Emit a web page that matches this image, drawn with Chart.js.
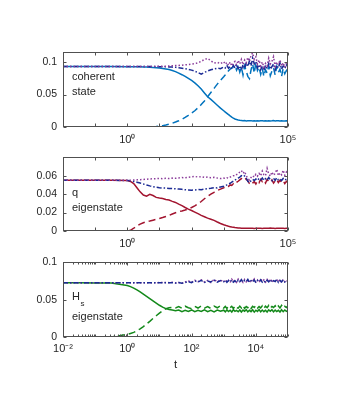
<!DOCTYPE html>
<html>
<head>
<meta charset="utf-8">
<script src="https://cdn.jsdelivr.net/npm/chart.js@4/dist/chart.umd.min.js"></script>
<style>
  html, body { margin: 0; padding: 0; background: #fff; }
  body { width: 341px; height: 400px; position: relative; overflow: hidden; }
  canvas { position: absolute; left: 0; }
</style>
</head>
<body>
<canvas id="c1" width="341" height="105" style="top:40px"></canvas>
<canvas id="c2" width="341" height="105" style="top:145px"></canvas>
<canvas id="c3" width="341" height="130" style="top:250px"></canvas>
<script>
// log10(t) of the sample points, shared by the three panels
var logT = [-2, -1.5, -1, -0.5,
  0, 0.1, 0.2, 0.3, 0.4, 0.5, 0.6, 0.7, 0.8, 0.9, 1.0, 1.1, 1.2, 1.3, 1.4, 1.5,
  1.6, 1.7, 1.8, 1.9, 2.0, 2.1, 2.2, 2.3, 2.4, 2.5, 2.6, 2.7, 2.8, 2.9, 3.0,
  3.05, 3.1, 3.15, 3.2, 3.25, 3.3, 3.35, 3.4, 3.45, 3.5, 3.55, 3.6, 3.65, 3.7, 3.75, 3.8, 3.85, 3.9, 3.95, 4.0,
  4.05, 4.1, 4.15, 4.2, 4.25, 4.3, 4.35, 4.4, 4.45, 4.5, 4.55, 4.6, 4.65, 4.7, 4.75, 4.8, 4.85, 4.9, 4.95, 5.0];

// panel 1 : coherent state
var cohSolid = [0.093, 0.093, 0.093, 0.093,
  0.0929, 0.0928, 0.0928, 0.0927, 0.0926, 0.0924, 0.0922, 0.092, 0.0917, 0.0913, 0.0908, 0.0902, 0.0894, 0.0884, 0.0870, 0.0852,
  0.0830, 0.0805, 0.0778, 0.0748, 0.0716, 0.0680, 0.0635, 0.0585, 0.0525, 0.0465, 0.0425, 0.0380, 0.0335, 0.0290, 0.0250,
  0.0230, 0.0210, 0.0190, 0.0170, 0.0152, 0.0137, 0.0124, 0.0115, 0.0108, 0.0103, 0.0100, 0.0097, 0.0099, 0.0094, 0.0097, 0.0095, 0.0098, 0.0093, 0.0096, 0.0094,
  0.0097, 0.0093, 0.0096, 0.0095, 0.0092, 0.0097, 0.0094, 0.0096, 0.0093, 0.0095, 0.0098, 0.0092, 0.0095, 0.0097, 0.0093, 0.0096, 0.0094, 0.0092, 0.0096, 0.0094];
var cohDash = [0, 0, 0, 0,
  0, 0, 0, 0, 0, 0, 0, 0.0002, 0.0004, 0.0007, 0.0012, 0.0020, 0.0030, 0.0043, 0.0058, 0.0076,
  0.0096, 0.0120, 0.0148, 0.0180, 0.0215, 0.0250, 0.0295, 0.0345, 0.0400, 0.0465, 0.0530, 0.0595, 0.0660, 0.0720, 0.0775,
  0.0805, 0.0840, 0.0865, 0.0890, 0.0905, 0.0920, 0.0935, 0.0875, 0.0950, 0.0845, 0.0920, 0.0800, 0.0940, 0.0860, 0.0780, 0.0745, 0.0880, 0.0970, 0.0830, 0.0990,
  0.0870, 0.0920, 0.0810, 0.0900, 0.0780, 0.0880, 0.0830, 0.0940, 0.0790, 0.0860, 0.0910, 0.0800, 0.0930, 0.0840, 0.0890, 0.0780, 0.0900, 0.0820, 0.0870, 0.0810];
var cohDashDot = [0.093, 0.093, 0.093, 0.093,
  0.093, 0.093, 0.093, 0.093, 0.093, 0.093, 0.093, 0.093, 0.093, 0.093, 0.0929, 0.0928, 0.0927, 0.0925, 0.0922, 0.0918,
  0.0912, 0.0905, 0.0897, 0.0888, 0.0876, 0.0860, 0.0838, 0.0815, 0.0840, 0.0862, 0.0880, 0.0893, 0.0905, 0.0898, 0.0925,
  0.0910, 0.0945, 0.0905, 0.0935, 0.0895, 0.0950, 0.0910, 0.0965, 0.0900, 0.0940, 0.0880, 0.0960, 0.0900, 0.0990, 0.0930, 0.1020, 0.0940, 0.1060, 0.0970, 0.1010,
  0.0910, 0.0960, 0.0880, 0.0940, 0.0870, 0.0950, 0.0900, 0.0980, 0.0890, 0.0930, 0.0970, 0.0880, 0.0950, 0.0910, 0.0990, 0.0890, 0.0940, 0.0900, 0.0960, 0.0920];
var cohDot = [0.093, 0.093, 0.093, 0.093,
  0.093, 0.093, 0.093, 0.093, 0.093, 0.0931, 0.0931, 0.0932, 0.0932, 0.0933, 0.0934, 0.0935, 0.0937, 0.0939, 0.0942, 0.0945,
  0.0948, 0.0952, 0.0957, 0.0962, 0.0968, 0.0975, 0.0990, 0.1010, 0.1040, 0.1055, 0.1020, 0.0985, 0.0995, 0.0975, 0.1005,
  0.0965, 0.0995, 0.0950, 0.1000, 0.0940, 0.0985, 0.1010, 0.0955, 0.1025, 0.0970, 0.1040, 0.0960, 0.1030, 0.0990, 0.1070, 0.1010, 0.1100, 0.1140, 0.1040, 0.1080,
  0.0970, 0.1030, 0.0940, 0.1000, 0.0920, 0.0980, 0.0940, 0.1060, 0.0970, 0.1010, 0.1080, 0.0930, 0.1000, 0.0960, 0.1030, 0.0940, 0.0990, 0.0920, 0.1000, 0.0950];

// panel 2 : q eigenstate
var qSolid = [0.055, 0.055, 0.055, 0.055,
  0.0548, 0.0538, 0.0515, 0.0470, 0.0425, 0.0390, 0.0378, 0.0398, 0.0385, 0.0365, 0.0358, 0.0352, 0.0342, 0.0336, 0.0322, 0.0310,
  0.0292, 0.0275, 0.0255, 0.0238, 0.0222, 0.0205, 0.0188, 0.0170, 0.0155, 0.0140, 0.0128, 0.0115, 0.0098, 0.0082, 0.0068,
  0.0062, 0.0056, 0.0051, 0.0047, 0.0043, 0.0040, 0.0037, 0.0035, 0.0033, 0.0032, 0.0031, 0.0030, 0.0031, 0.0029, 0.0030, 0.0031, 0.0029, 0.0030, 0.0028, 0.0030,
  0.0031, 0.0029, 0.0030, 0.0028, 0.0030, 0.0031, 0.0029, 0.0030, 0.0032, 0.0029, 0.0030, 0.0028, 0.0031, 0.0030, 0.0029, 0.0031, 0.0030, 0.0028, 0.0030, 0.0031];
var qDash = [0, 0, 0, 0,
  0, 0.0008, 0.0030, 0.0055, 0.0075, 0.0090, 0.0100, 0.0108, 0.0117, 0.0126, 0.0136, 0.0146, 0.0158, 0.0170, 0.0185, 0.0198,
  0.0210, 0.0218, 0.0228, 0.0240, 0.0255, 0.0272, 0.0295, 0.0320, 0.0350, 0.0375, 0.0400, 0.0420, 0.0440, 0.0455, 0.0470,
  0.0478, 0.0490, 0.0484, 0.0500, 0.0495, 0.0512, 0.0505, 0.0528, 0.0540, 0.0555, 0.0570, 0.0565, 0.0580, 0.0560, 0.0545, 0.0515, 0.0500, 0.0520, 0.0535, 0.0510,
  0.0545, 0.0525, 0.0560, 0.0535, 0.0550, 0.0520, 0.0560, 0.0540, 0.0530, 0.0555, 0.0520, 0.0545, 0.0560, 0.0525, 0.0550, 0.0530, 0.0545, 0.0515, 0.0540, 0.0525];
var qDashDot = [0.055, 0.055, 0.055, 0.055,
  0.0549, 0.0545, 0.0538, 0.0530, 0.0520, 0.0510, 0.0500, 0.0490, 0.0482, 0.0475, 0.0470, 0.0467, 0.0465, 0.0462, 0.0460, 0.0458,
  0.0455, 0.0452, 0.0448, 0.0445, 0.0442, 0.0446, 0.0450, 0.0448, 0.0455, 0.0460, 0.0464, 0.0470, 0.0468, 0.0478, 0.0485,
  0.0492, 0.0500, 0.0510, 0.0518, 0.0530, 0.0540, 0.0552, 0.0565, 0.0575, 0.0585, 0.0600, 0.0590, 0.0598, 0.0575, 0.0540, 0.0525, 0.0545, 0.0560, 0.0548, 0.0565,
  0.0550, 0.0570, 0.0555, 0.0575, 0.0548, 0.0568, 0.0552, 0.0580, 0.0558, 0.0545, 0.0572, 0.0550, 0.0578, 0.0555, 0.0565, 0.0548, 0.0570, 0.0552, 0.0562, 0.0550];
var qDot = [0.055, 0.055, 0.055, 0.055,
  0.0551, 0.0552, 0.0553, 0.0555, 0.0557, 0.0560, 0.0562, 0.0565, 0.0567, 0.0568, 0.0570, 0.0568, 0.0572, 0.0570, 0.0574, 0.0572,
  0.0576, 0.0580, 0.0578, 0.0584, 0.0588, 0.0592, 0.0586, 0.0590, 0.0582, 0.0585, 0.0578, 0.0582, 0.0575, 0.0570, 0.0574,
  0.0570, 0.0578, 0.0572, 0.0585, 0.0590, 0.0600, 0.0598, 0.0612, 0.0620, 0.0640, 0.0655, 0.0625, 0.0645, 0.0600, 0.0570, 0.0555, 0.0580, 0.0600, 0.0585, 0.0615,
  0.0595, 0.0625, 0.0600, 0.0650, 0.0610, 0.0600, 0.0680, 0.0620, 0.0595, 0.0640, 0.0605, 0.0625, 0.0670, 0.0600, 0.0630, 0.0610, 0.0660, 0.0605, 0.0640, 0.0615];

// panel 3 : Hs eigenstate
var hsSolid = [0.0725, 0.0725, 0.0724, 0.0722,
  0.0690, 0.0675, 0.0655, 0.0630, 0.0605, 0.0575, 0.0545, 0.0515, 0.0485, 0.0455, 0.0425, 0.0400, 0.0380, 0.0368, 0.0360, 0.0352,
  0.0360, 0.0340, 0.0358, 0.0343, 0.0362, 0.0338, 0.0356, 0.0342, 0.0364, 0.0339, 0.0357, 0.0336, 0.0361, 0.0344, 0.0359,
  0.0337, 0.0363, 0.0341, 0.0358, 0.0335, 0.0365, 0.0343, 0.0356, 0.0338, 0.0362, 0.0334, 0.0360, 0.0345, 0.0366, 0.0336, 0.0357, 0.0340, 0.0364, 0.0333, 0.0359,
  0.0342, 0.0367, 0.0337, 0.0361, 0.0339, 0.0358, 0.0335, 0.0363, 0.0344, 0.0365, 0.0336, 0.0360, 0.0341, 0.0357, 0.0334, 0.0364, 0.0339, 0.0362, 0.0343, 0.0356];
var hsDash = [0, 0, 0, 0,
  0.0035, 0.0048, 0.0062, 0.0085, 0.0110, 0.0140, 0.0175, 0.0210, 0.0248, 0.0285, 0.0320, 0.0352, 0.0378, 0.0392, 0.0398, 0.0390,
  0.0408, 0.0384, 0.0412, 0.0392, 0.0380, 0.0410, 0.0388, 0.0415, 0.0386, 0.0406, 0.0382, 0.0413, 0.0391, 0.0418, 0.0387,
  0.0409, 0.0383, 0.0416, 0.0392, 0.0411, 0.0380, 0.0419, 0.0394, 0.0386, 0.0414, 0.0389, 0.0421, 0.0383, 0.0408, 0.0393, 0.0417, 0.0381, 0.0412, 0.0395, 0.0420,
  0.0385, 0.0407, 0.0390, 0.0418, 0.0382, 0.0413, 0.0392, 0.0422, 0.0386, 0.0410, 0.0396, 0.0419, 0.0384, 0.0414, 0.0389, 0.0423, 0.0387, 0.0411, 0.0394, 0.0417];
var hsDashDot = [0.0725, 0.0725, 0.0725, 0.0725,
  0.0725, 0.0725, 0.0725, 0.0725, 0.0725, 0.0725, 0.0725, 0.0725, 0.0725, 0.0725, 0.0725, 0.0725, 0.0725, 0.0726, 0.0727, 0.0722,
  0.0728, 0.0720, 0.0730, 0.0742, 0.0728, 0.0752, 0.0735, 0.0758, 0.0731, 0.0750, 0.0738, 0.0762, 0.0733, 0.0755, 0.0740,
  0.0760, 0.0732, 0.0755, 0.0738, 0.0765, 0.0734, 0.0752, 0.0728, 0.0758, 0.0740, 0.0768, 0.0733, 0.0756, 0.0742, 0.0770, 0.0731, 0.0754, 0.0737, 0.0764, 0.0729,
  0.0757, 0.0741, 0.0766, 0.0735, 0.0753, 0.0730, 0.0761, 0.0739, 0.0767, 0.0734, 0.0755, 0.0743, 0.0769, 0.0732, 0.0758, 0.0738, 0.0763, 0.0736, 0.0754, 0.0741];
var hsDot = [0.0725, 0.0725, 0.0725, 0.0725,
  0.0725, 0.0725, 0.0725, 0.0725, 0.0725, 0.0725, 0.0725, 0.0725, 0.0725, 0.0727, 0.0729, 0.0728, 0.0730, 0.0727, 0.0733, 0.0724,
  0.0730, 0.0719, 0.0738, 0.0750, 0.0733, 0.0760, 0.0741, 0.0766, 0.0736, 0.0758, 0.0730, 0.0770, 0.0739, 0.0762, 0.0735,
  0.0768, 0.0737, 0.0759, 0.0729, 0.0772, 0.0741, 0.0763, 0.0733, 0.0775, 0.0745, 0.0760, 0.0731, 0.0771, 0.0739, 0.0764, 0.0727, 0.0769, 0.0743, 0.0776, 0.0736,
  0.0762, 0.0730, 0.0773, 0.0744, 0.0765, 0.0734, 0.0770, 0.0740, 0.0778, 0.0732, 0.0761, 0.0747, 0.0774, 0.0738, 0.0766, 0.0729, 0.0771, 0.0742, 0.0763, 0.0736];

// axis ticks
var xTickVals = [0.01, 0.1, 1, 10, 100, 1000, 10000, 100000];
var xLabelsTop = ['', '', '10\u2070', '', '', '', '', '10\u2075'];
var xLabelsBottom = ['10\u207B\u00B2', '', '10\u2070', '', '10\u00B2', '', '10\u2074', ''];
var yTicks1 = [0, 0.05, 0.1], yLabels1 = ['0', '0.05', '0.1'];
var yTicks2 = [0, 0.02, 0.04, 0.06], yLabels2 = ['0', '0.02', '0.04', '0.06'];
var yTicks3 = [0, 0.05, 0.1], yLabels3 = ['0', '0.05', '0.1'];

var BLUE = '#0072BD', NAVY = '#1b2a94', PURPLE = '#8a3b9a', RED = '#A2142F', GREEN = '#13891a';
var TXT = '#262626';
var FONT = '"Liberation Sans", Arial, sans-serif';

function pts(vals) {
    return vals.map(function (v, i) { return { x: Math.pow(10, logT[i]), y: v }; });
}
function line(vals, color, dash) {
    return {
        data: pts(vals), borderColor: color, borderWidth: 1.5, borderDash: dash || [],
        borderCapStyle: 'butt', pointRadius: 0, tension: 0, fill: false
    };
}

// box, inward ticks and the panel caption (matlab look)
var frameTicks = {
    id: 'frameTicks',
    afterDraw: function (chart, args, opts) {
        var ctx = chart.ctx, a = chart.chartArea;
        var xs = chart.scales.x, ys = chart.scales.y;
        var L = Math.round(a.left) + 0.5, R = Math.round(a.right) - 0.5;
        var T = Math.round(a.top) + 0.5, B = Math.round(a.bottom) - 0.5;
        ctx.save();
        ctx.strokeStyle = '#505050';
        ctx.lineWidth = 1;
        ctx.beginPath();
        xs.ticks.forEach(function (t, i) {
            var len = (opts.majorX && opts.majorX.indexOf(i) < 0) ? 2 : 3;
            var px = Math.round(xs.getPixelForValue(t.value)) + 0.5;
            ctx.moveTo(px, B); ctx.lineTo(px, B - len);
            ctx.moveTo(px, T); ctx.lineTo(px, T + len);
        });
        if (opts.minor) {
            for (var d = -2; d < 5; d++) {
                for (var m = 2; m <= 9; m++) {
                    var mx = Math.round(xs.getPixelForValue(m * Math.pow(10, d))) + 0.5;
                    ctx.moveTo(mx, B); ctx.lineTo(mx, B - 2);
                    ctx.moveTo(mx, T); ctx.lineTo(mx, T + 2);
                }
            }
        }
        ys.ticks.forEach(function (t) {
            var py = Math.round(ys.getPixelForValue(t.value)) + 0.5;
            ctx.moveTo(L, py); ctx.lineTo(L + 3, py);
            ctx.moveTo(R, py); ctx.lineTo(R - 3, py);
        });
        ctx.stroke();
        ctx.strokeRect(L, T, R - L, B - T);

        ctx.fillStyle = TXT;
        ctx.textBaseline = 'middle';
        ctx.textAlign = 'left';
        (opts.caption || []).forEach(function (c) {
            var x = a.left + 9, y = a.top + c.dy;
            ctx.font = '11px ' + FONT;
            ctx.fillText(c.text, x, y);
            if (c.sub) {
                var w = ctx.measureText(c.text).width;
                ctx.font = '8px ' + FONT;
                ctx.fillText(c.sub, x + w + 0.5, y + 6);
            }
        });
        ctx.restore();
    }
};

function makePanel(id, series, yMax, yTicks, yLabels, xLabels, xPad, xAxisH, padTop, extra) {
    var withTitle = !!extra.title;
    return new Chart(document.getElementById(id), {
        type: 'line',
        data: { datasets: series },
        plugins: [frameTicks],
        options: {
            responsive: false, animation: false, events: [],
            layout: { padding: { top: padTop, right: 53, left: 0, bottom: 0 } },
            plugins: {
                legend: { display: false }, tooltip: { enabled: false },
                frameTicks: { caption: extra.caption, minor: extra.minor, majorX: extra.majorX }
            },
            scales: {
                x: {
                    type: 'logarithmic', min: 0.01, max: 100000,
                    afterBuildTicks: function (s) { s.ticks = xTickVals.map(function (v) { return { value: v }; }); },
                    afterFit: function (s) { s.height = xAxisH; },
                    grid: { display: false, drawTicks: false }, border: { display: false },
                    ticks: {
                        autoSkip: false, maxRotation: 0, padding: xPad, color: TXT,
                        font: { family: FONT, size: 11 },
                        callback: function (v, i) { return xLabels[i]; }
                    },
                    title: {
                        display: withTitle, text: extra.title || '', color: TXT,
                        font: { family: FONT, size: 11.5 }, padding: { top: 0, bottom: 8 }
                    }
                },
                y: {
                    min: 0, max: yMax,
                    afterBuildTicks: function (s) { s.ticks = yTicks.map(function (v) { return { value: v }; }); },
                    afterFit: function (s) { s.width = 63; },
                    grid: { display: false, drawTicks: false }, border: { display: false },
                    ticks: {
                        padding: 6, color: TXT, font: { family: FONT, size: 10.5 },
                        callback: function (v, i) { return yLabels[i]; }
                    }
                }
            }
        }
    });
}

var dot = [1.5, 2], dashDot = [5, 2, 1.5, 2], dash = [7, 4];

makePanel('c1', [
    line(cohDot, PURPLE, dot),
    line(cohDashDot, NAVY, dashDot),
    line(cohDash, BLUE, dash),
    line(cohSolid, BLUE)
], 0.115, yTicks1, yLabels1, xLabelsTop, 6, 18, 12,
    { caption: [{ text: 'coherent', dy: 25 }, { text: 'state', dy: 40 }] });

makePanel('c2', [
    line(qDot, PURPLE, dot),
    line(qDashDot, NAVY, dashDot),
    line(qDash, RED, dash),
    line(qSolid, RED)
], 0.08, yTicks2, yLabels2, xLabelsTop, 6, 19, 11,
    { caption: [{ text: 'q', dy: 36 }, { text: 'eigenstate', dy: 51 }] });

makePanel('c3', [
    line(hsDashDot, NAVY, dashDot),
    line(hsDot, PURPLE, dot),
    line(hsDash, GREEN, dash),
    line(hsSolid, GREEN)
], 0.1, yTicks3, yLabels3, xLabelsBottom, 5, 43, 12,
    { caption: [{ text: 'H', sub: 's', dy: 35 }, { text: 'eigenstate', dy: 55 }],
      minor: true, majorX: [0, 2, 4, 6], title: 't' });
</script>
</body>
</html>
